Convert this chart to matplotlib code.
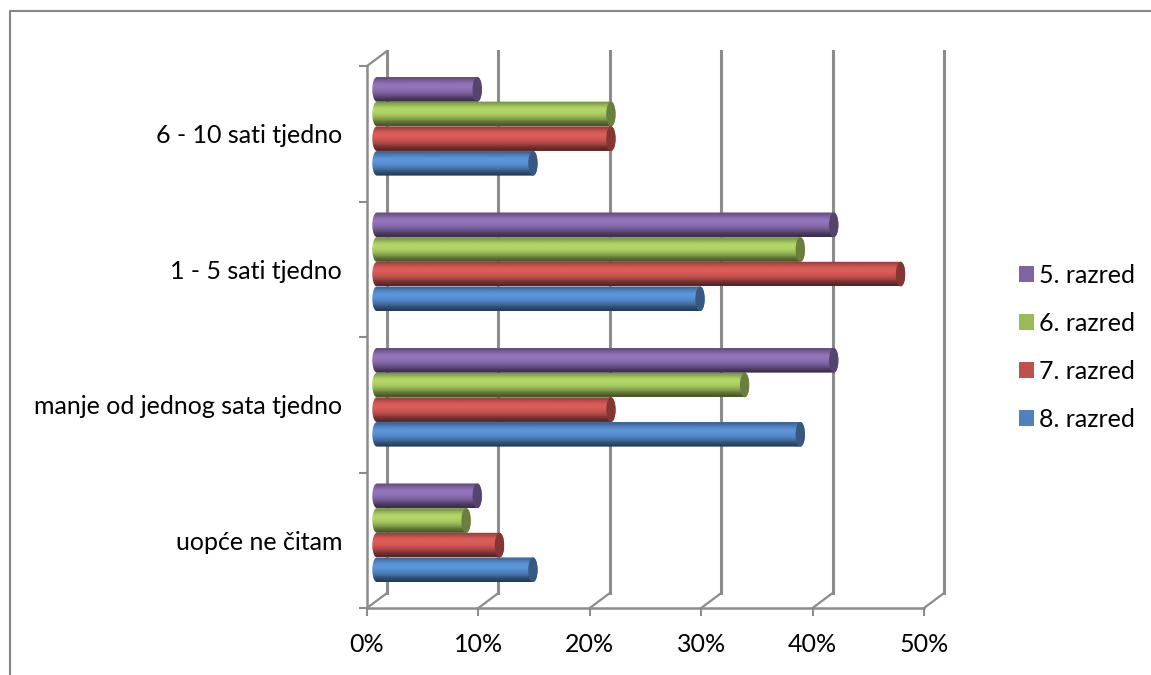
import numpy as np
import matplotlib
matplotlib.use("Agg")
import matplotlib.pyplot as plt
from matplotlib.colors import to_rgb
from matplotlib.lines import Line2D
from matplotlib.patches import Patch, PathPatch, Ellipse
from matplotlib.path import Path

categories = ["uopće ne čitam", "manje od jednog sata tjedno", "1 - 5 sati tjedno", "6 - 10 sati tjedno"]
razred_8 = [14, 38, 29, 14]
razred_7 = [11, 21, 47, 21]
razred_6 = [8, 33, 38, 21]
razred_5 = [9, 41, 41, 9]
series_names = ["8. razred", "7. razred", "6. razred", "5. razred"]
series_colors = ["#4F81BD", "#C0504D", "#9BBB59", "#8064A2"]
x_ticks = [0, 10, 20, 30, 40, 50]
x_labels = ["0%", "10%", "20%", "30%", "40%", "50%"]

W, H = 1151, 675
GRID = "#8c8c8c"
DX, DY = 1.79, 0.11      # depth of the fake 3d box, in data units
BAR_H = 0.182
CAP = 0.42               # half width of the end ellipse
shade = np.array([0.80, 0.98, 1.14, 1.16, 1.10, 1.0, 0.84, 0.62, 0.48])

plt.rcParams["font.family"] = ["Lato", "DejaVu Sans"]
FS = 18

fig = plt.figure(figsize=(W / 100, H / 100), dpi=100)
ax = fig.add_axes([367 / W, 1 - 608 / H, (924 - 367) / W, (608 - 66) / H])
ax.set_xlim(0, 50)
ax.set_ylim(0, 4)
ax.autoscale(False)
ax.patch.set_visible(False)

for s in ["top", "right"]:
    ax.spines[s].set_visible(False)
for s in ["left", "bottom"]:
    ax.spines[s].set_color(GRID)
    ax.spines[s].set_linewidth(1.8)

ax.set_xticks(x_ticks)
ax.set_xticklabels(x_labels, fontsize=FS)
ax.set_yticks(range(5))
ax.set_yticklabels([])
ax.set_yticks(np.arange(4) + 0.5, categories, minor=True, fontsize=FS)
ax.tick_params(axis="both", which="major", color=GRID, width=1.5, length=6)
ax.tick_params(axis="x", pad=12)
ax.tick_params(axis="y", which="minor", length=0, pad=18)

# back wall and floor lines
for t in x_ticks:
    ax.plot([t + DX, t + DX], [DY, 4 + DY], color=GRID, lw=2.2, clip_on=False, zorder=1)
    ax.plot([t, t + DX], [0, DY], color=GRID, lw=1.6, clip_on=False, zorder=1)
ax.plot([0, DX], [4, 4 + DY], color=GRID, lw=1.6, clip_on=False, zorder=1)


def cylinder(x1, yc, color):
    x0 = DX / 2
    base = np.array(to_rgb(color))
    grad = np.clip(base[None, None, :] * shade[:, None, None], 0, 1)
    t = np.linspace(np.pi / 2, 3 * np.pi / 2, 30)
    xs = np.r_[x0 + CAP * np.cos(t), x1 + CAP * np.cos(t - np.pi)]
    ys = np.r_[yc + BAR_H / 2 * np.sin(t), yc + BAR_H / 2 * np.sin(t - np.pi)]
    outline = PathPatch(Path(np.c_[xs, ys]), transform=ax.transData, fc="none", ec="none")
    ax.add_patch(outline)
    img = ax.imshow(grad, extent=[x0 - CAP, x1 + CAP, yc - BAR_H / 2, yc + BAR_H / 2],
                    aspect="auto", interpolation="bilinear", origin="upper", zorder=3)
    img.set_clip_path(outline)
    ax.add_patch(Ellipse((x1, yc), 2 * CAP, BAR_H, fc=base * 0.68, ec="none", zorder=3))


series_values = [razred_8, razred_7, razred_6, razred_5]
for j, (vals, col) in enumerate(zip(series_values, series_colors)):
    for i, v in enumerate(vals):
        yc = i + 0.5 + DY / 2 + (j - 1.5) * BAR_H
        cylinder(DX / 2 + v, yc, col)

handles = [Patch(fc=c, ec="none") for c in series_colors[::-1]]
fig.legend(handles, series_names[::-1], loc="center left", bbox_to_anchor=(1019 / W, 1 - 347 / H),
           frameon=False, fontsize=FS, handlelength=0.6, handleheight=0.6,
           handletextpad=0.2, labelspacing=1.0, borderpad=0, borderaxespad=0)

# outer chart frame
fig.add_artist(Line2D([9.5 / W, 9.5 / W, 1], [0, 1 - 10.5 / H, 1 - 10.5 / H], color="#868686", lw=1.5))

fig.savefig("out.png", dpi=100)
